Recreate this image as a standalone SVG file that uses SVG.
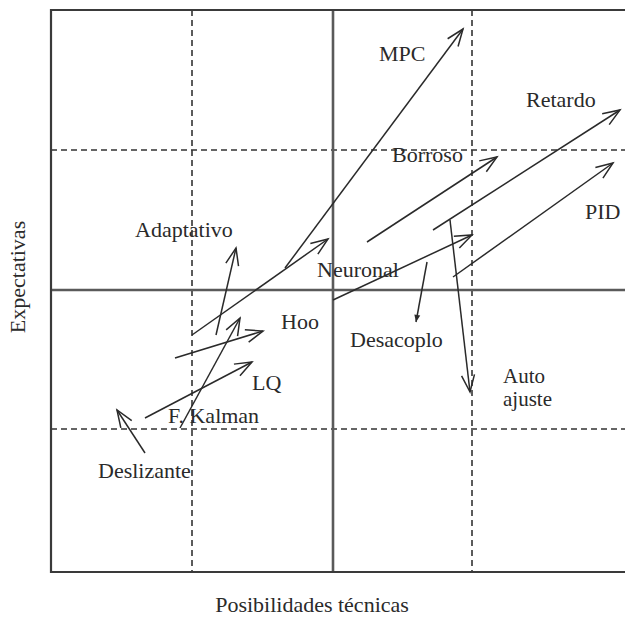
<svg xmlns="http://www.w3.org/2000/svg" width="625" height="622" viewBox="0 0 625 622">
<style>
.frame{fill:none;stroke:#3a3a3a;stroke-width:2.2}
.axis{fill:none;stroke:#5a5a5a;stroke-width:2.6}
.grid{fill:none;stroke:#333;stroke-width:1.6;stroke-dasharray:6,4}
.arr{fill:none;stroke:#2a2a2a;stroke-width:1.5;marker-end:url(#head)}
.arrs{fill:none;stroke:#2a2a2a;stroke-width:1.5;marker-end:url(#small)}
.lbl{font-family:'Liberation Serif','Times New Roman',serif;font-size:22px;fill:#2a2a2a}
</style>
<defs>
<marker id="head" markerUnits="userSpaceOnUse" markerWidth="24" markerHeight="16" viewBox="-20 -8 22 16" refX="0" refY="0" orient="auto">
<path d="M-17,-6.5 L0,0 L-17,6.5" fill="none" stroke="#2a2a2a" stroke-width="1.5"/>
</marker>
<marker id="small" markerUnits="userSpaceOnUse" markerWidth="12" markerHeight="10" viewBox="-8 -4 10 8" refX="0" refY="0" orient="auto">
<path d="M-6,-2.5 L0,0 L-6,2.5 Z" fill="#2a2a2a"/>
</marker>
</defs>
<g id="chart">
<path class="grid" d="M192,10 V572 M472,10 V572 M51,150 H625 M51,429 H625"/>
<path class="axis" d="M333,10 V572 M51,290 H625"/>
<path class="frame" d="M625,10 H51 V572 H625"/>
</g>
<g id="connectors">
<line class="arr" x1="285" y1="268" x2="463" y2="29"/>
<line class="arr" x1="192" y1="335" x2="328" y2="239"/>
<line class="arr" x1="333" y1="300" x2="472" y2="235"/>
<line class="arr" x1="367" y1="242" x2="497" y2="157"/>
<line class="arr" x1="433" y1="230" x2="620" y2="110"/>
<line class="arr" x1="453" y1="277" x2="613" y2="163"/>
<line class="arr" x1="450" y1="220" x2="470" y2="392"/>
<line class="arrs" x1="427" y1="262" x2="416" y2="322"/>
<line class="arr" x1="216" y1="335" x2="236" y2="248"/>
<line class="arr" x1="175" y1="358" x2="263" y2="331"/>
<line class="arr" x1="180" y1="428" x2="240" y2="318"/>
<line class="arr" x1="145" y1="418" x2="252" y2="362"/>
<line class="arr" x1="145" y1="453" x2="117" y2="410"/>
</g>
<g font-family="Liberation Serif, serif" font-size="22">
<g id="mpc"><text class="lbl" x="379" y="61">MPC</text></g>
<g id="retardo"><text class="lbl" x="526" y="107">Retardo</text></g>
<g id="borroso"><text class="lbl" x="392" y="162">Borroso</text></g>
<g id="pid"><text class="lbl" x="585" y="219">PID</text></g>
<g id="adaptativo"><text class="lbl" x="135" y="237">Adaptativo</text></g>
<g id="neuronal"><text class="lbl" x="317" y="277">Neuronal</text></g>
<g id="hoo"><text class="lbl" x="281" y="329">Hoo</text></g>
<g id="desacoplo"><text class="lbl" x="350" y="347">Desacoplo</text></g>
<g id="autoajuste"><text class="lbl" x="503" y="383" style="font-size:21px">Auto</text><text class="lbl" x="503" y="406" style="font-size:21px">ajuste</text></g>
<g id="lq"><text class="lbl" x="252" y="390">LQ</text></g>
<g id="fkalman"><text class="lbl" x="168" y="423">F. Kalman</text></g>
<g id="deslizante"><text class="lbl" x="98" y="478">Deslizante</text></g>
<g id="xlabel"><text class="lbl" x="312" y="612" text-anchor="middle">Posibilidades técnicas</text></g>
<g id="ylabel"><text class="lbl" transform="translate(25,277) rotate(-90)" text-anchor="middle">Expectativas</text></g>
</g>
</svg>
